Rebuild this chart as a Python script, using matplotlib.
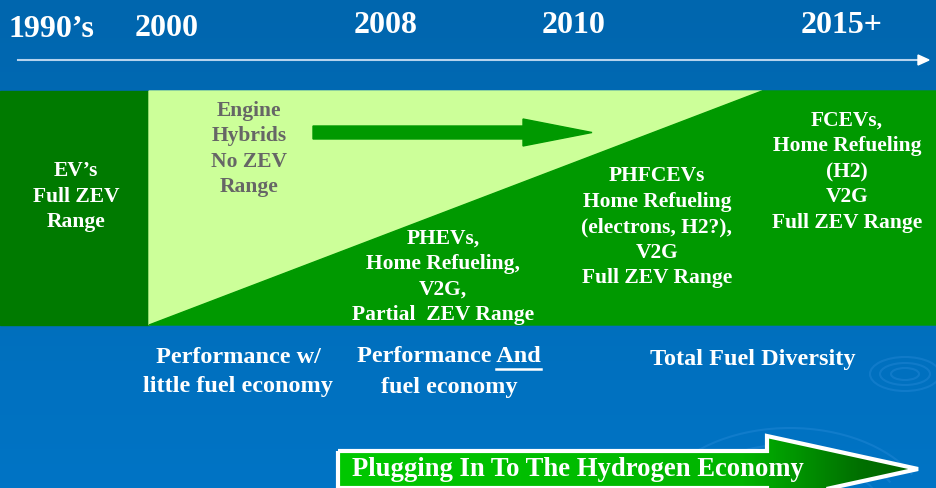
import numpy as np
import matplotlib.pyplot as plt
from matplotlib.patches import Polygon, Ellipse, Arc
from matplotlib.colors import LinearSegmentedColormap

# timeline labels
years = ["1990\u2019s", "2000", "2008", "2010", "2015+"]

# stage descriptions inside the band
ev_text = ["EV\u2019s", "Full ZEV", "Range"]
hybrid_text = ["Engine", "Hybrids", "No ZEV", "Range"]
phev_text = ["PHEVs,", "Home Refueling,", "V2G,", "Partial  ZEV Range"]
phfcev_text = ["PHFCEVs", "Home Refueling", "(electrons, H2?),", "V2G", "Full ZEV Range"]
fcev_text = ["FCEVs,", "Home Refueling", "(H2)", "V2G", "Full ZEV Range"]

# captions under the band
caption_left = ["Performance w/", "little fuel economy"]
caption_mid = ["Performance", "And", "fuel economy"]
caption_right = "Total Fuel Diversity"
banner = "Plugging In To The Hydrogen Economy"

W, H = 937, 489
FONT = "Liberation Serif"
DARK = "#007A00"
MID = "#009900"
LIGHT = "#CCFF99"

fig = plt.figure(figsize=(W / 100, H / 100), dpi=100)
ax = fig.add_axes([0, 0, 1, 1])
ax.set_xlim(0, W)
ax.set_ylim(H, 0)
ax.axis("off")

# background gradient
bg = LinearSegmentedColormap.from_list("bg", ["#0066AE", "#0074C5"])
ax.imshow(np.linspace(0, 1, 100).reshape(-1, 1), cmap=bg, aspect="auto",
          extent=[0, W, H, 0], zorder=0)

# faint ripples
ripple = dict(fill=False, color="#2F8FDD", alpha=0.35, lw=1.5, zorder=1)
for w, h in [(70, 34), (50, 22), (28, 12)]:
    ax.add_patch(Ellipse((905, 375), w, h, **ripple))
for r in [95, 115, 140]:
    ax.add_patch(Arc((790, 520), 2 * r, 1.3 * r, theta1=200, theta2=340, **ripple))

# timeline
ax.plot([18, 920], [61, 61], color="#B5D3EE", lw=1.5, zorder=2)
ax.add_patch(Polygon([[918, 56], [929, 61], [918, 66]], color="white", zorder=2))
year_x = [51, 167, 386, 574, 842]
year_y = [37, 36, 33, 33, 33]
for lab, x, y in zip(years, year_x, year_y):
    ax.text(x, y, lab, ha="center", va="baseline", color="white",
            fontsize=23, fontweight="bold", family=FONT, zorder=3)

# band
top, bot = 92, 326
ax.add_patch(Polygon([[0, top], [149, top], [149, bot], [0, bot]], color=DARK, zorder=2))
ax.add_patch(Polygon([[149, top], [762, top], [149, bot]], color=LIGHT, zorder=2))
ax.add_patch(Polygon([[149, bot], [762, top], [W, top], [W, bot]], color=MID, zorder=2))

# arrow inside light area
ax.add_patch(Polygon([[313, 127], [523, 127], [523, 120], [592, 133.5],
                      [523, 147], [523, 140], [313, 140]], color=MID, zorder=3))

def block(lines, x, yc, color="white", size=15.5, gap=25.5):
    n = len(lines)
    for i, s in enumerate(lines):
        y = yc + (i - (n - 1) / 2) * gap
        ax.text(x, y, s, ha="center", va="center", color=color, fontsize=size,
                fontweight="bold", family=FONT, zorder=4)

block(ev_text, 76, 197)
block(hybrid_text, 249, 149, color="#666666")
block(phev_text, 443, 277)
block(phfcev_text, 657, 227)
block(fcev_text, 847, 172)

# captions
block(caption_left, 238, 372, size=17.5, gap=29)
block([caption_right], 753, 359, size=17.5)

fig.canvas.draw()
rend = fig.canvas.get_renderer()
inv = ax.transData.inverted()
full = caption_mid[0] + " " + caption_mid[1]
t_full = ax.text(449, 357, full, ha="center", va="center", color="white",
                 fontsize=17.5, fontweight="bold", family=FONT, zorder=4)
t_and = ax.text(0, 0, caption_mid[1], fontsize=17.5, fontweight="bold", family=FONT)
bb_full = t_full.get_window_extent(rend)
bb_and = t_and.get_window_extent(rend)
t_and.remove()
x1 = inv.transform((bb_full.x1, 0))[0]
x0 = inv.transform((bb_full.x1 - bb_and.width, 0))[0]
ax.plot([x0, x1], [370, 370], color="white", lw=1.8, zorder=4)
block([caption_mid[2]], 449, 387, size=17.5)

# banner arrow with gradient fill
arrow_pts = [[338, 452], [767, 452], [767, 437], [918, 470],
             [767, 503], [767, 489], [338, 489]]
gcmap = LinearSegmentedColormap.from_list(
    "g", [(0, "#00C800"), (0.7, "#00B400"), (0.9, "#007000"), (1, "#006200")])
grad = ax.imshow(np.linspace(0, 1, 200).reshape(1, -1), cmap=gcmap, aspect="auto",
                 extent=[338, 918, 503, 437], zorder=5)
clip = Polygon(arrow_pts, closed=True, transform=ax.transData, fill=False)
grad.set_clip_path(clip)
ax.add_patch(Polygon(arrow_pts, closed=True, fill=False, edgecolor="white",
                     lw=3, joinstyle="miter", zorder=6))
ax.text(352, 470, banner, ha="left", va="center", color="white", fontsize=19.2,
        fontweight="bold", family=FONT, zorder=7)

ax.set_xlim(0, W)
ax.set_ylim(H, 0)
fig.savefig("out.png", dpi=100)
